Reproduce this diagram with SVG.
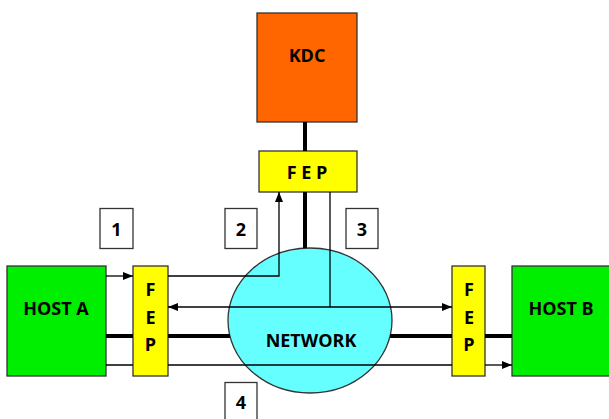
<svg xmlns="http://www.w3.org/2000/svg" width="609" height="419" viewBox="0 0 609 419">
  <style>
    .box { stroke: #333333; stroke-width: 1.3; }
    .kdc { fill: #FF6600; }
    .fep { fill: #FFFF00; }
    .host { fill: #00EE00; }
    .net { fill: #66FFFF; }
    .num { fill: #FFFFFF; }
    .lbl { font-family: "Open Sans", "Liberation Sans", sans-serif; font-weight: bold; font-size: 18px; fill: #000000; text-anchor: middle; }
    .thin { fill: none; stroke: #000000; stroke-width: 1.3; }
    .thick { fill: none; stroke: #000000; stroke-width: 4; }
  </style>
  <defs>
    <marker id="arrow" markerUnits="userSpaceOnUse" markerWidth="10" markerHeight="10" viewBox="0 0 10 10" refX="10" refY="5" orient="auto">
      <path d="M0,1 L10,5 L0,9 Z" fill="#000000"/>
    </marker>
  </defs>

  <g id="kdc">
    <rect class="box kdc" x="257" y="13" width="100" height="109"/>
    <text class="lbl" x="307" y="62">KDC</text>
  </g>
  <g id="fep-top">
    <rect class="box fep" x="259" y="151" width="98" height="41"/>
    <text class="lbl" x="307" y="179">F E P</text>
  </g>
  <g id="host-a">
    <rect class="box host" x="7" y="266" width="99" height="110"/>
    <text class="lbl" x="56" y="315">HOST A</text>
  </g>
  <g id="fep-a">
    <rect class="box fep" x="133" y="266" width="35" height="110"/>
    <text class="lbl" x="150.5" y="296">F</text>
    <text class="lbl" x="150.5" y="323.5">E</text>
    <text class="lbl" x="150.5" y="351">P</text>
  </g>
  <g id="network">
    <ellipse class="box net" cx="310" cy="320.5" rx="82" ry="72.5"/>
    <text class="lbl" x="311" y="346.5">NETWORK</text>
  </g>
  <g id="fep-b">
    <rect class="box fep" x="452" y="266" width="33" height="110"/>
    <text class="lbl" x="469" y="296">F</text>
    <text class="lbl" x="469" y="323.5">E</text>
    <text class="lbl" x="469" y="351">P</text>
  </g>
  <g id="host-b">
    <rect class="box host" x="512" y="266" width="100" height="110"/>
    <text class="lbl" x="561" y="315">HOST B</text>
  </g>
  <g id="step-1">
    <rect class="box num" x="100" y="208.5" width="33" height="40"/>
    <text class="lbl" x="116.5" y="235.5">1</text>
  </g>
  <g id="step-2">
    <rect class="box num" x="225" y="208.5" width="32" height="40"/>
    <text class="lbl" x="241" y="235.5">2</text>
  </g>
  <g id="step-3">
    <rect class="box num" x="346" y="208.5" width="32" height="40"/>
    <text class="lbl" x="362" y="235.5">3</text>
  </g>
  <g id="step-4">
    <rect class="box num" x="225" y="382.5" width="32" height="40"/>
    <text class="lbl" x="241" y="408.5">4</text>
  </g>

  <g id="connectors">
    <!-- trunk links -->
    <path class="thick" d="M305,122 V151 M305,192 V248 M106,336 H133 M168,336 H230 M390,336 H452 M485,336 H512"/>
    <!-- step 1: host A to its FEP -->
    <path class="thin" d="M106,276 H133" marker-end="url(#arrow)"/>
    <!-- step 2: FEP to the KDC front end -->
    <path class="thin" d="M168,276 H279 V192" marker-end="url(#arrow)"/>
    <!-- step 3: KDC reply fanned out to both FEPs -->
    <path class="thin" d="M330,192 V307"/>
    <path class="thin" d="M330,307 H168" marker-end="url(#arrow)"/>
    <path class="thin" d="M330,307 H452" marker-end="url(#arrow)"/>
    <!-- step 4: host A to host B -->
    <path class="thin" d="M106,365 H133 M168,365 H452"/>
    <path class="thin" d="M485,365 H512" marker-end="url(#arrow)"/>
  </g>
</svg>
